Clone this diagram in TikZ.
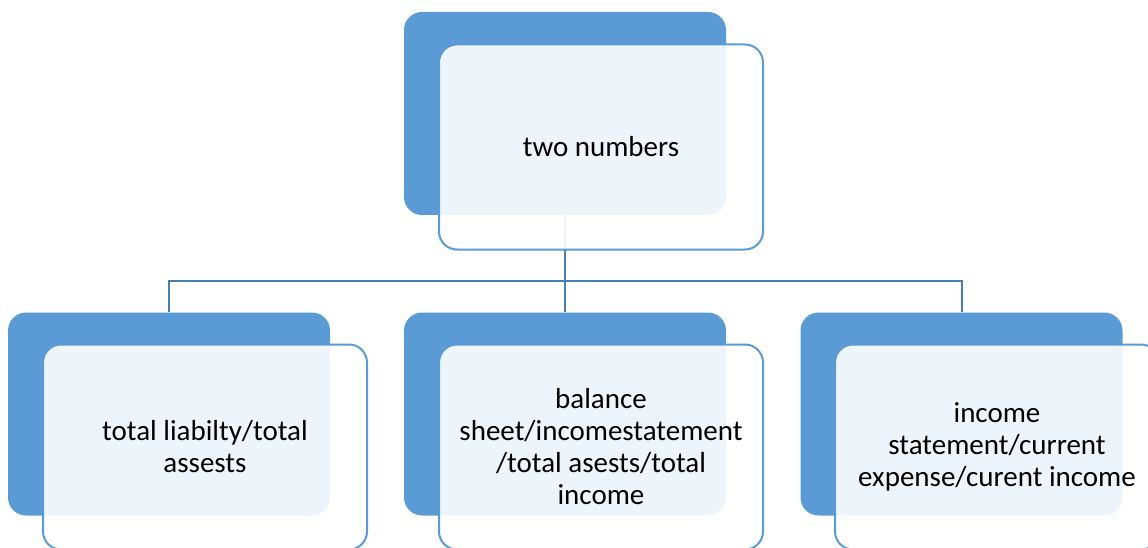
\documentclass[tikz,border=0pt]{standalone}
\usepackage{fontspec}
\setmainfont{Carlito}
\definecolor{blueA}{HTML}{5B9BD5}
\definecolor{linkblue}{HTML}{4A7EB3}
\begin{document}
\begin{tikzpicture}[x=1pt,y=-1pt,
  back/.style={fill=blueA, rounded corners=18pt, minimum width=322pt, minimum height=203pt, inner sep=0pt},
  front/.style={draw=blueA, line width=2pt, fill=white, fill opacity=0.9, text opacity=1, rounded corners=18pt,
    minimum width=324pt, minimum height=205pt, align=center, inner sep=0pt,
    font=\fontsize{29}{32}\selectfont},
  link/.style={draw=linkblue, line width=2pt}]
\useasboundingbox (0,0) rectangle (1148,548);
\clip (0,0) rectangle (1148,548);
% back boxes
\node[back] (tb) at (565,113.5) {};
\node[back] (lb) at (169,414) {};
\node[back] (mb) at (565,414) {};
\node[back] (rb) at (961.5,414) {};
% connectors
\draw[link] (tb.south) -- ++(0,66) coordinate (hub);
\draw[link] (hub) -| (lb.north);
\draw[link] (hub) -- (mb.north);
\draw[link] (hub) -| (rb.north);
% front boxes
\node[front] (tf) at (601,147) {two numbers};
\node[front] (lf) at (205,447) {total liabilty/total\\assests};
\node[front] (mf) at (601,447) {balance\\sheet/incomestatement\\/total asests/total\\income};
\node[front] (rf) at (997,447) {income\\statement/current\\expense/curent income};
\end{tikzpicture}
\end{document}
